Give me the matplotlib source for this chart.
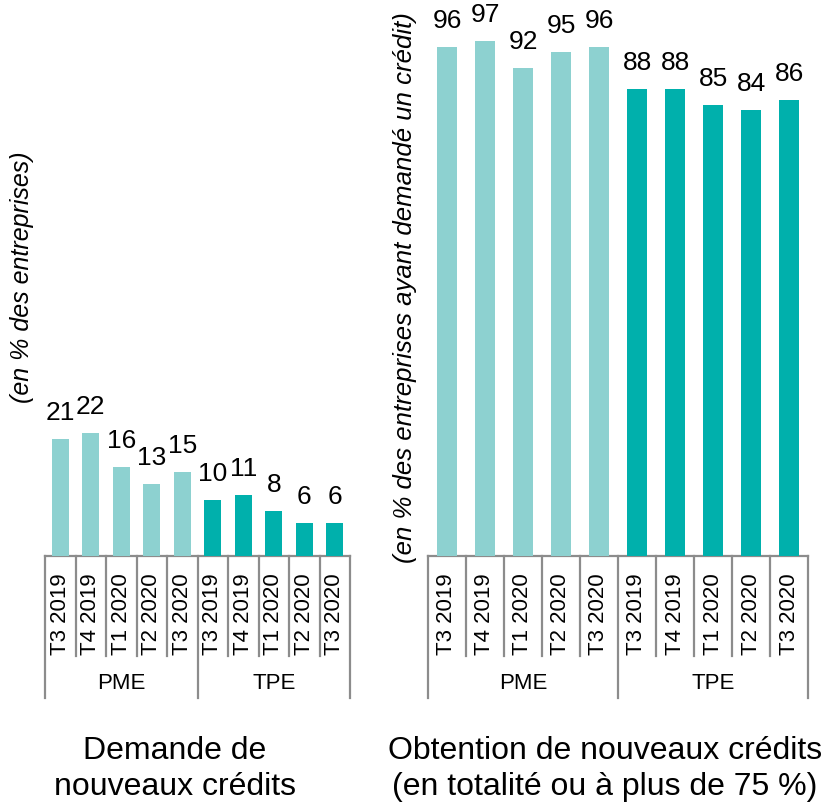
import matplotlib
matplotlib.use("Agg")
import matplotlib.pyplot as plt

plt.rcParams["font.family"] = ["Liberation Sans", "DejaVu Sans"]

quarters = ["T3 2019", "T4 2019", "T1 2020", "T2 2020", "T3 2020"]
groups = ["PME", "TPE"]

demande_pme = [21, 22, 16, 13, 15]
demande_tpe = [10, 11, 8, 6, 6]

obtention_pme = [96, 97, 92, 95, 96]
obtention_tpe = [88, 88, 85, 84, 86]

light = "#8DD1D0"
dark = "#00B0AC"
grey = "#8C8C8C"

W, H = 825, 803
fig = plt.figure(figsize=(W / 100, H / 100), dpi=100)

base_px = 557  # baseline from top
ax_h = base_px / H


def draw_panel(ax, pme, tpe, ymax, width):
    vals = pme + tpe
    colors = [light] * len(pme) + [dark] * len(tpe)
    xs = list(range(len(vals)))
    ax.bar(xs, vals, width=width, color=colors, zorder=3)
    ax.set_xlim(-0.5, len(vals) - 0.5)
    ax.set_ylim(0, ymax)
    ax.axis("off")

    for x, v in zip(xs, vals):
        ax.annotate(str(v), xy=(x, v), xytext=(0, 14.4), textcoords="offset points",
                    ha="center", va="baseline", fontsize=19, annotation_clip=False)
        ax.annotate(quarters[x % len(quarters)], xy=(x, 0), xytext=(0, -41),
                    textcoords="offset points", ha="center", va="center",
                    rotation=90, fontsize=16, annotation_clip=False)

    # category axis with separators
    tr = ax.get_xaxis_transform()
    short = -100 / base_px
    long_ = -142 / base_px
    ax.plot([-0.5, len(vals) - 0.5], [0, 0], color=grey, lw=1.6, transform=tr,
            clip_on=False, zorder=2)
    n = len(quarters)
    for k in range(len(vals) + 1):
        xk = k - 0.5
        y1 = long_ if k % n == 0 else short
        ax.plot([xk, xk], [0, y1], color=grey, lw=1.6, transform=tr, clip_on=False)
    for g, name in enumerate(groups):
        ax.text(g * n + (n - 1) / 2, -127 / base_px, name, transform=tr,
                ha="center", va="center", fontsize=16)


ax1 = fig.add_axes([45 / W, 1 - ax_h, 305 / W, ax_h])
draw_panel(ax1, demande_pme, demande_tpe, 100, 0.56)

ax2 = fig.add_axes([428 / W, 1 - ax_h, 380 / W, ax_h])
draw_panel(ax2, obtention_pme, obtention_tpe, 105, 0.55)

fig.text(22 / W, 1 - 277 / H, "(en % des entreprises)", rotation=90,
         ha="center", va="center", fontsize=18, style="italic")
fig.text(405 / W, 1 - 288 / H, "(en % des entreprises ayant demandé un crédit)",
         rotation=90, ha="center", va="center", fontsize=18.5, style="italic")

fig.text(175 / W, 1 - 736 / H, "Demande de\nnouveaux crédits", ha="center",
         va="top", fontsize=23, linespacing=1.25)
fig.text(605 / W, 1 - 736 / H, "Obtention de nouveaux crédits\n(en totalité ou à plus de 75 %)",
         ha="center", va="top", fontsize=23, linespacing=1.25)

fig.savefig("out.png", dpi=100)
